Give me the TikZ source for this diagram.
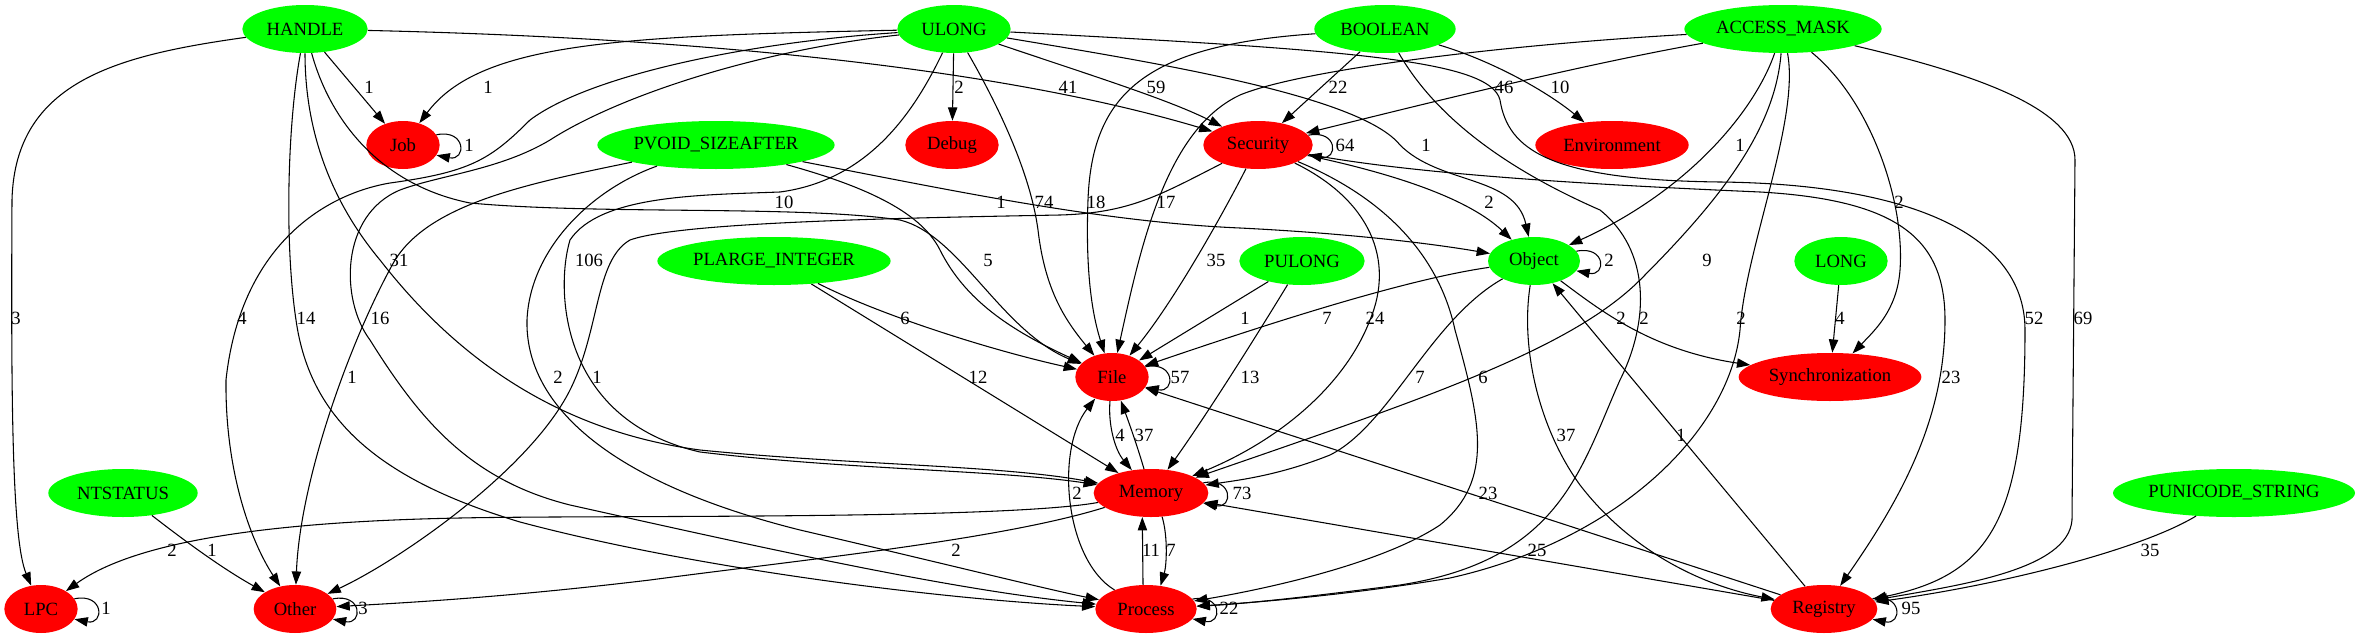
\documentclass[tikz,border=0pt]{standalone}
\usepackage{fontspec}
\setmainfont{Liberation Serif}
\usetikzlibrary{shapes.geometric,arrows.meta}
\definecolor{typegreen}{RGB}{0,255,0}
\definecolor{catred}{RGB}{255,0,0}
\begin{document}
\begin{tikzpicture}[x=0.75pt, y=-0.75pt,
    every node/.style={font=\fontsize{14}{16}\selectfont},
    type/.style={ellipse, fill=typegreen, inner sep=0pt, minimum height=36pt},
    cat/.style={ellipse, fill=catred, inner sep=0pt, minimum height=36pt},
    arr/.style={line width=0.8pt, -{Triangle[length=10pt,width=7pt]}},
    lbl/.style={inner sep=0pt}]
    \useasboundingbox (0,0) rectangle (2364,639);

    % Argument types (green)
    \node[type, minimum width=94pt]  (Handle)     at (305,29)   {HANDLE};
    \node[type, minimum width=85pt]  (Ulong)      at (954,29)   {ULONG};
    \node[type, minimum width=106pt] (Boolean)    at (1385,29)  {BOOLEAN};
    \node[type, minimum width=148pt] (AccessMask) at (1783,29)  {ACCESS\_MASK};
    \node[type, minimum width=178pt] (PvoidSize)  at (716,145)  {PVOID\_SIZEAFTER};
    \node[type, minimum width=175pt] (PlargeInt)  at (774,261)  {PLARGE\_INTEGER};
    \node[type, minimum width=94pt]  (Pulong)     at (1302,261) {PULONG};
    \node[type, minimum width=69pt]  (Object)     at (1534,261) {Object};
    \node[type, minimum width=70pt]  (Long)       at (1841,261) {LONG};
    \node[type, minimum width=112pt] (Ntstatus)   at (123,493)  {NTSTATUS};
    \node[type, minimum width=181pt] (Punicode)   at (2234,493) {PUNICODE\_STRING};

    % Call categories (red)
    \node[cat, minimum width=55pt]  (Job)         at (403,145)  {Job};
    \node[cat, minimum width=70pt]  (Debug)       at (952,145)  {Debug};
    \node[cat, minimum width=82pt]  (Security)    at (1258,145) {Security};
    \node[cat, minimum width=115pt] (Environment) at (1612,145) {Environment};
    \node[cat, minimum width=55pt]  (File)        at (1112,377) {File};
    \node[cat, minimum width=137pt] (Sync)        at (1830,377) {Synchronization};
    \node[cat, minimum width=86pt]  (Memory)      at (1151,493) {Memory};
    \node[cat, minimum width=55pt]  (Lpc)         at (41,609)   {LPC};
    \node[cat, minimum width=62pt]  (Other)       at (295,609)  {Other};
    \node[cat, minimum width=76pt]  (Process)     at (1146,609) {Process};
    \node[cat, minimum width=80pt]  (Registry)    at (1824,609) {Registry};

    % Edges out of HANDLE
    \draw[arr] (Handle) -- (Job);
    \draw[arr] (Handle) .. controls (700,38) and (1000,68) .. (Security);
    \draw[arr] (Handle) .. controls (330,120) and (380,185) .. (470,203) .. controls (600,215) and (800,205) .. (900,220) .. controls (960,235) and (1000,330) .. (File);
    \draw[arr] (Handle) .. controls (305,130) and (330,200) .. (380,260) .. controls (450,350) and (550,430) .. (700,450) .. controls (850,465) and (1000,465) .. (Memory);
    \draw[arr] (Handle) .. controls (288,120) and (284,240) .. (296,320) .. controls (310,420) and (380,480) .. (520,522) .. controls (700,570) and (950,600) .. (Process);
    \draw[arr] (Handle) .. controls (120,55) and (15,80) .. (12,200) .. controls (11,400) and (12,540) .. (Lpc);

    % Edges out of ULONG
    \draw[arr] (Ulong) .. controls (620,36) and (480,42) .. (Job);
    \draw[arr] (Ulong) -- (Debug);
    \draw[arr] (Ulong) .. controls (1090,75) and (1170,100) .. (Security);
    \draw[arr] (Ulong) .. controls (995,100) and (1030,170) .. (1038,230) .. controls (1045,290) and (1065,320) .. (File);
    \draw[arr] (Ulong) .. controls (1150,62) and (1360,95) .. (1400,145) .. controls (1440,185) and (1515,175) .. (Object);
    \draw[arr] (Ulong) .. controls (1350,50) and (1490,60) .. (1500,100) .. controls (1508,150) and (1550,180) .. (1720,182) .. controls (1900,184) and (2025,230) .. (2025,330) .. controls (2025,520) and (1990,575) .. (Registry);
    \draw[arr] (Ulong) .. controls (915,110) and (870,180) .. (780,192) .. controls (700,195) and (600,195) .. (570,240) .. controls (555,290) and (560,420) .. (700,452) .. controls (850,470) and (1000,470) .. (Memory);
    \draw[arr] (Ulong) .. controls (750,42) and (590,75) .. (530,120) .. controls (490,160) and (470,172) .. (390,183) .. controls (320,195) and (240,250) .. (226,380) .. controls (225,470) and (250,540) .. (Other);
    \draw[arr] (Ulong) .. controls (760,50) and (620,95) .. (550,140) .. controls (500,170) and (440,175) .. (400,190) .. controls (340,215) and (340,300) .. (370,340) .. controls (420,420) and (470,480) .. (570,505) .. controls (750,545) and (950,590) .. (Process);

    % Edges out of BOOLEAN
    \draw[arr] (Boolean) -- (Security);
    \draw[arr] (Boolean) .. controls (1490,60) and (1545,90) .. (Environment);
    \draw[arr] (Boolean) .. controls (1150,45) and (1092,90) .. (1088,200) .. controls (1085,280) and (1094,320) .. (File);
    \draw[arr] (Boolean) .. controls (1440,125) and (1520,175) .. (1600,210) .. controls (1650,250) and (1650,320) .. (1620,380) .. controls (1580,470) and (1560,560) .. (1400,585) .. controls (1300,598) and (1240,604) .. (Process);

    % Edges out of ACCESS_MASK
    \draw[arr] (AccessMask) .. controls (1580,65) and (1420,105) .. (Security);
    \draw[arr] (AccessMask) .. controls (1500,45) and (1300,70) .. (1240,95) .. controls (1165,130) and (1140,250) .. (File);
    \draw[arr] (AccessMask) .. controls (1755,110) and (1690,190) .. (Object);
    \draw[arr] (AccessMask) .. controls (1775,130) and (1720,200) .. (1640,280) .. controls (1570,350) and (1420,400) .. (Memory);
    \draw[arr] (AccessMask) .. controls (1800,120) and (1745,250) .. (1740,330) .. controls (1730,430) and (1620,540) .. (1450,578) .. controls (1350,595) and (1250,603) .. (Process);
    \draw[arr] (AccessMask) .. controls (1870,100) and (1905,200) .. (1900,270) .. controls (1897,310) and (1875,330) .. (Sync);
    \draw[arr] (AccessMask) .. controls (1980,75) and (2075,110) .. (2075,160) -- (2072,520) .. controls (2068,570) and (1960,585) .. (Registry);

    % Edges out of PVOID_SIZEAFTER
    \draw[arr] (PvoidSize) .. controls (860,185) and (920,210) .. (940,250) .. controls (965,300) and (1010,330) .. (File);
    \draw[arr] (PvoidSize) .. controls (950,190) and (1100,222) .. (1240,228) .. controls (1360,234) and (1440,245) .. (Object);
    \draw[arr] (PvoidSize) .. controls (590,190) and (530,250) .. (527,320) .. controls (525,400) and (600,480) .. (800,530) .. controls (950,565) and (1050,590) .. (Process);
    \draw[arr] (PvoidSize) .. controls (520,185) and (430,205) .. (395,260) .. controls (350,340) and (300,480) .. (Other);

    % Edges out of the other types
    \draw[arr] (PlargeInt) .. controls (880,315) and (990,350) .. (File);
    \draw[arr] (PlargeInt) -- (Memory);
    \draw[arr] (Pulong) -- (File);
    \draw[arr] (Pulong) .. controls (1260,330) and (1210,410) .. (Memory);
    \draw[arr] (Object) .. controls (1400,280) and (1250,330) .. (File);
    \draw[arr] (Object) .. controls (1430,320) and (1390,425) .. (1330,455) .. controls (1280,475) and (1240,480) .. (Memory);
    \draw[arr] (Object) .. controls (1520,350) and (1540,430) .. (1580,485) .. controls (1630,550) and (1700,585) .. (Registry);
    \draw[arr] (Object) .. controls (1600,310) and (1650,350) .. (Sync);
    \draw[arr] (Long) -- (Sync);
    \draw[arr] (Ntstatus) .. controls (190,545) and (225,570) .. (Other);
    \draw[arr] (Punicode) .. controls (2140,550) and (2000,585) .. (Registry);

    % Edges out of Security
    \draw[arr] (Security) .. controls (1400,175) and (1470,200) .. (Object);
    \draw[arr] (Security) .. controls (1225,210) and (1175,300) .. (File);
    \draw[arr] (Security) .. controls (1370,200) and (1395,260) .. (1370,320) .. controls (1345,385) and (1280,440) .. (Memory);
    \draw[arr] (Security) .. controls (1390,200) and (1440,260) .. (1455,330) .. controls (1480,420) and (1495,480) .. (1440,525) .. controls (1380,565) and (1260,590) .. (Process);
    \draw[arr] (Security) .. controls (1420,175) and (1600,185) .. (1760,192) .. controls (1900,200) and (1945,240) .. (1945,320) .. controls (1945,420) and (1900,500) .. (Registry);
    \draw[arr] (Security) .. controls (1160,195) and (1130,213) .. (1060,215) .. controls (900,218) and (680,222) .. (630,240) .. controls (595,260) and (600,330) .. (570,390) .. controls (530,470) and (400,560) .. (Other);

    % Edges between File, Memory, Process and Registry
    \draw[arr] (File) .. controls (1108,425) and (1115,450) .. (Memory);
    \draw[arr] (Memory) .. controls (1137,445) and (1128,420) .. (File);
    \draw[arr] (Process) .. controls (1065,560) and (1055,450) .. (File);
    \draw[arr] (Process.97) -- (Memory.250);
    \draw[arr] (Memory.295) .. controls +(6,20) and +(6,-20) .. (Process.58);
    \draw[arr] (Memory) .. controls (1000,520) and (600,515) .. (460,518) .. controls (250,522) and (130,545) .. (Lpc);
    \draw[arr] (Memory) .. controls (1000,540) and (800,560) .. (650,580) .. controls (500,598) and (400,603) .. (Other);
    \draw[arr] (Registry) -- (File);
    \draw[arr] (Registry) -- (Memory);
    \draw[arr] (Registry) -- (Object);

    % Self loops
    \draw[arr] (Job.17) .. controls +(30,-6) and +(30,6) .. (Job.-17);
    \draw[arr] (Security.11) .. controls +(30,-6) and +(30,6) .. (Security.-11);
    \draw[arr] (Object.13) .. controls +(30,-6) and +(30,6) .. (Object.-13);
    \draw[arr] (File.17) .. controls +(30,-6) and +(30,6) .. (File.-17);
    \draw[arr] (Memory.11) .. controls +(30,-6) and +(30,6) .. (Memory.-11);
    \draw[arr] (Lpc.17) .. controls +(30,-6) and +(30,6) .. (Lpc.-17);
    \draw[arr] (Other.15) .. controls +(30,-6) and +(30,6) .. (Other.-15);
    \draw[arr] (Process.12) .. controls +(30,-6) and +(30,6) .. (Process.-12);
    \draw[arr] (Registry.12) .. controls +(30,-6) and +(30,6) .. (Registry.-12);

    % Edge labels
    \node[lbl] (lHandleJob)    at (369,87)   {1};
    \node[lbl] (lUlongJob)     at (488,87)   {1};
    \node[lbl] (lUlongDebug)   at (959,87)   {2};
    \node[lbl] (lHandleSec)    at (1068,87)  {41};
    \node[lbl] (lUlongSec)     at (1156,87)  {59};
    \node[lbl] (lBoolSec)      at (1338,87)  {22};
    \node[lbl] (lMaskSec)      at (1504,87)  {46};
    \node[lbl] (lBoolEnv)      at (1560,87)  {10};
    \node[lbl] (lJobJob)       at (469,145)  {1};
    \node[lbl] (lSecSec)       at (1345,145) {64};
    \node[lbl] (lUlongObj)     at (1426,145) {1};
    \node[lbl] (lMaskObj)      at (1740,145) {1};
    \node[lbl] (lHandleFile)   at (784,202)  {10};
    \node[lbl] (lPvoidObj)     at (1001,202) {1};
    \node[lbl] (lUlongFile)    at (1044,202) {74};
    \node[lbl] (lBoolFile)     at (1096,202) {18};
    \node[lbl] (lMaskFile)     at (1166,202) {17};
    \node[lbl] (lSecObj)       at (1489,202) {2};
    \node[lbl] (lMaskSync)     at (1899,202) {2};
    \node[lbl] (lHandleMem)    at (399,260)  {31};
    \node[lbl] (lUlongMem)     at (589,260)  {106};
    \node[lbl] (lPvoidFile)    at (988,260)  {5};
    \node[lbl] (lSecFile)      at (1216,260) {35};
    \node[lbl] (lObjObj)       at (1609,260) {2};
    \node[lbl] (lMaskMem)      at (1707,260) {9};
    \node[lbl] (lHandleLpc)    at (16,318)   {3};
    \node[lbl] (lUlongOther)   at (242,318)  {4};
    \node[lbl] (lHandleProc)   at (306,318)  {14};
    \node[lbl] (lUlongProc)    at (380,318)  {16};
    \node[lbl] (lPlargeFile)   at (905,318)  {6};
    \node[lbl] (lPulongFile)   at (1245,318) {1};
    \node[lbl] (lObjFile)      at (1327,318) {7};
    \node[lbl] (lSecMem)       at (1375,318) {24};
    \node[lbl] (lObjSync)      at (1621,318) {2};
    \node[lbl] (lBoolProc)     at (1644,318) {2};
    \node[lbl] (lMaskProc)     at (1741,318) {2};
    \node[lbl] (lLongSync)     at (1840,318) {4};
    \node[lbl] (lUlongReg)     at (2034,318) {52};
    \node[lbl] (lMaskReg)      at (2083,318) {69};
    \node[lbl] (lPvoidOther)   at (352,377)  {1};
    \node[lbl] (lPvoidProc)    at (558,377)  {2};
    \node[lbl] (lSecOther)     at (597,377)  {1};
    \node[lbl] (lPlargeMem)    at (978,377)  {12};
    \node[lbl] (lFileFile)     at (1180,377) {57};
    \node[lbl] (lPulongMem)    at (1250,377) {13};
    \node[lbl] (lObjMem)       at (1420,377) {7};
    \node[lbl] (lSecProc)      at (1483,377) {6};
    \node[lbl] (lSecReg)       at (1951,377) {23};
    \node[lbl] (lFileMem)      at (1120,435) {4};
    \node[lbl] (lMemFile)      at (1144,435) {37};
    \node[lbl] (lObjReg)       at (1566,435) {37};
    \node[lbl] (lRegObj)       at (1681,435) {1};
    \node[lbl] (lProcFile)     at (1077,493) {2};
    \node[lbl] (lMemMem)       at (1242,493) {73};
    \node[lbl] (lRegFile)      at (1488,493) {23};
    \node[lbl] (lMemLpc)       at (172,550)  {2};
    \node[lbl] (lNtOther)      at (212,550)  {1};
    \node[lbl] (lMemOther)     at (956,550)  {2};
    \node[lbl] (lProcMem)      at (1151,550) {11};
    \node[lbl] (lMemProc)      at (1171,550) {7};
    \node[lbl] (lRegMem)       at (1537,550) {25};
    \node[lbl] (lPuniReg)      at (2150,550) {35};
    \node[lbl] (lLpcLpc)       at (106,608)  {1};
    \node[lbl] (lOtherOther)   at (363,608)  {3};
    \node[lbl] (lProcProc)     at (1229,608) {22};
    \node[lbl] (lRegReg)       at (1911,608) {95};
\end{tikzpicture}
\end{document}
